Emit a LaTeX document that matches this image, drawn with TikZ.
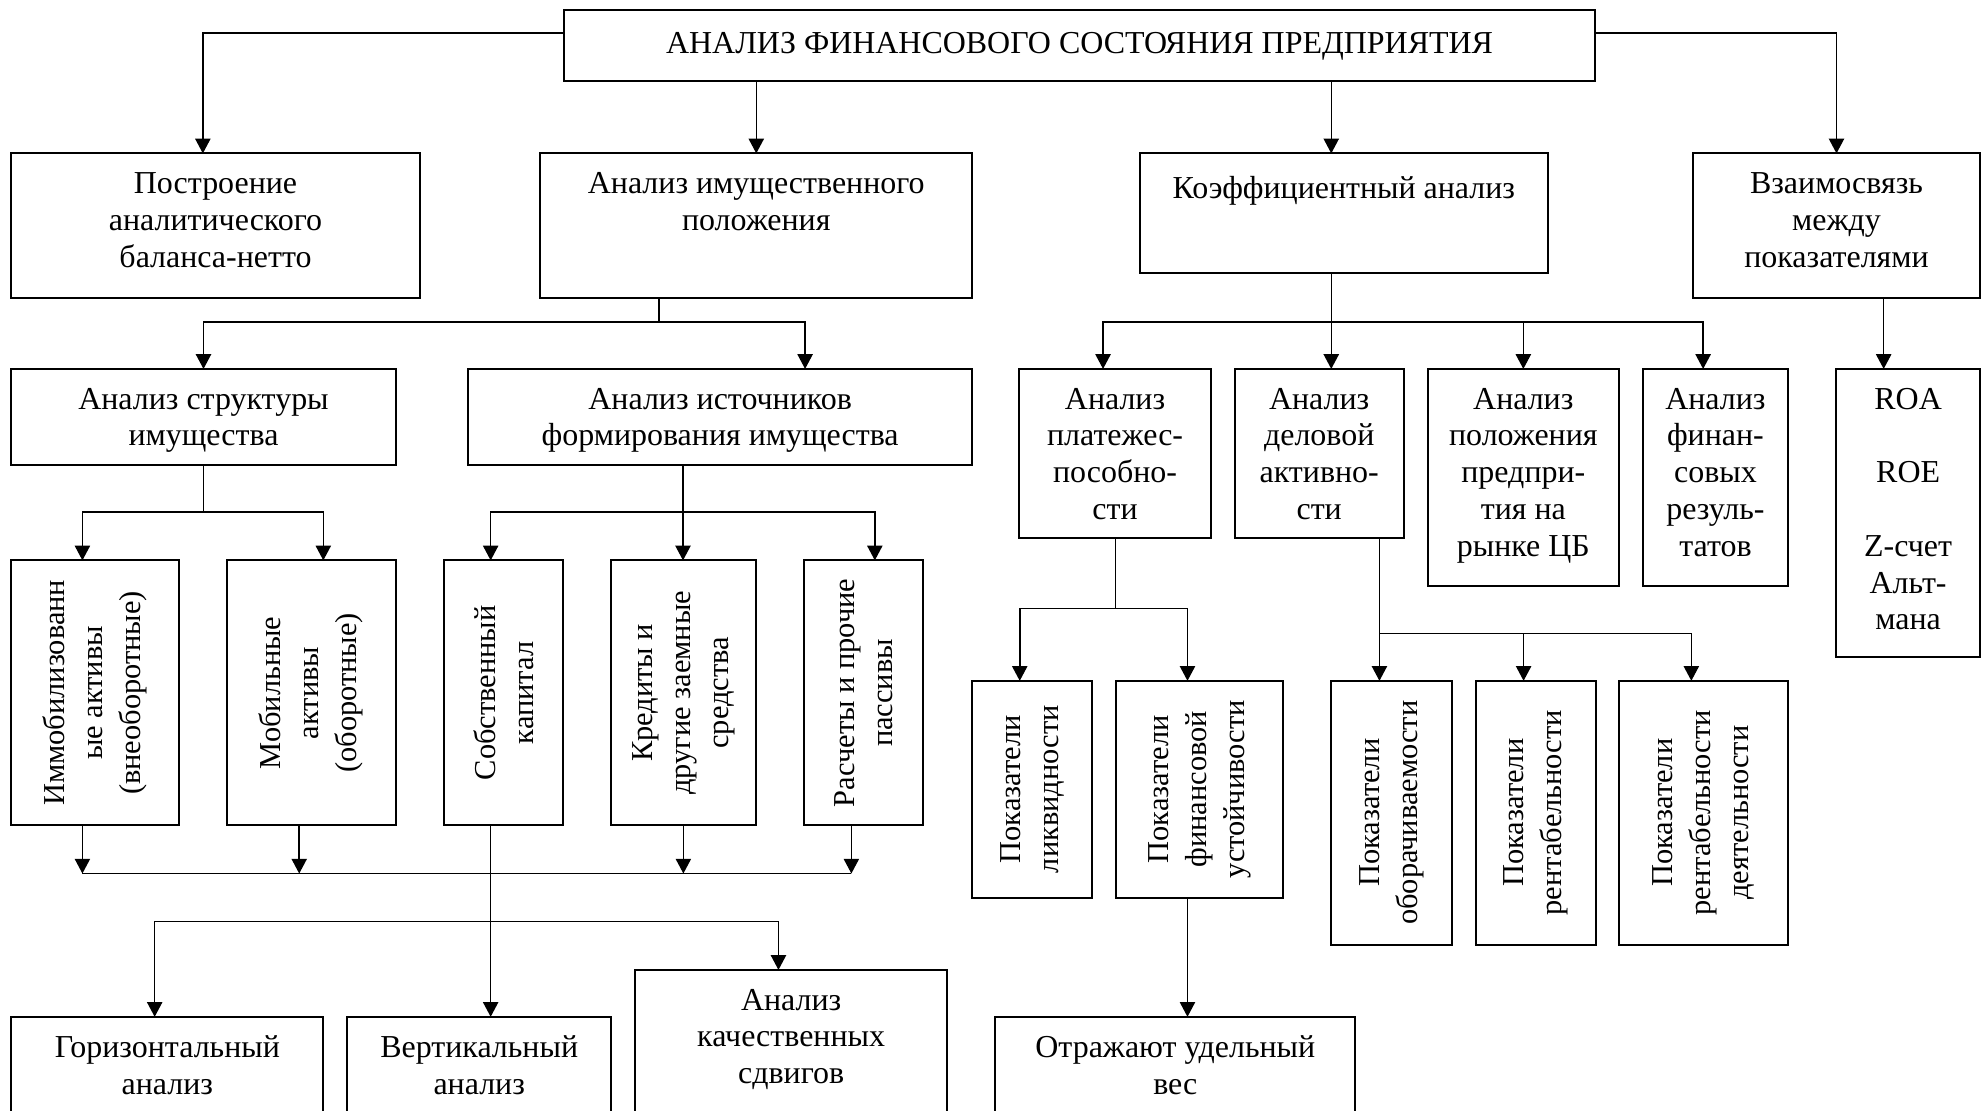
\documentclass[tikz,border=0pt]{standalone}
\usepackage{fontspec}
\setmainfont{Liberation Serif}
\usetikzlibrary{arrows.meta}
\newcommand\bx[5]{%
  \pgfmathsetlengthmacro\bxw{(#4-#2)*0.5pt}%
  \pgfmathsetlengthmacro\bxh{(#5-#3)*0.5pt}%
  \node[box, minimum width=\bxw, minimum height=\bxh] (#1) at ({(#2+#4)/2},{(#3+#5)/2}) {};}
\begin{document}
\begin{tikzpicture}[x=0.5pt,y=-0.5pt,
  box/.style={draw, line width=0.8pt, inner sep=0pt, outer sep=0pt},
  tx/.style={align=center, anchor=north, font=\fontsize{12.6}{14.5}\selectfont, inner sep=0pt, execute at begin node=\strut},
  vt/.style={align=center, rotate=90, font=\fontsize{12}{15}\selectfont, inner sep=0pt},
  ln/.style={line width=0.6pt},
  arr/.style={ln, -{Triangle[length=5.8pt,width=6pt]}}]
\useasboundingbox (0,0) rectangle (1568,876);
\clip (0,0) rectangle (1568,876);
\fill[white] (0,0) rectangle (1568,876);
% boxes
\bx{T}{445}{8}{1258}{64}
\bx{B1}{9}{121}{331}{235}
\bx{B2}{426}{121}{767}{235}
\bx{B3}{899}{121}{1221}{215}
\bx{B4}{1335}{121}{1562}{235}
\bx{C1}{9}{291}{312}{367}
\bx{C2}{369}{291}{767}{367}
\bx{D1}{9}{442}{141}{651}
\bx{D2}{179}{442}{312}{651}
\bx{D3}{350}{442}{444}{651}
\bx{D4}{482}{442}{596}{651}
\bx{D5}{634}{442}{728}{651}
\bx{E1}{9}{802}{255}{900}
\bx{E2}{274}{802}{482}{900}
\bx{E3}{501}{765}{747}{900}
\bx{F1}{804}{291}{955}{424}
\bx{F2}{974}{291}{1107}{424}
\bx{F3}{1126}{291}{1277}{462}
\bx{F4}{1296}{291}{1410}{462}
\bx{F5}{1448}{291}{1562}{518}
\bx{G1}{767}{537}{861}{708}
\bx{G2}{880}{537}{1012}{708}
\bx{G3}{1050}{537}{1145}{745}
\bx{G4}{1164}{537}{1259}{745}
\bx{G5}{1277}{537}{1410}{745}
\bx{H}{785}{802}{1069}{900}
% texts
\node[tx] (Tt) at ([yshift=-6.6pt]T.north) {АНАЛИЗ ФИНАНСОВОГО СОСТОЯНИЯ ПРЕДПРИЯТИЯ};
\node[tx] (B1t) at ([yshift=-7.35pt]B1.north) {Построение\\аналитического\\баланса-нетто};
\node[tx] (B2t) at ([yshift=-7.35pt]B2.north) {Анализ имущественного\\положения};
\node[tx] (B3t) at ([yshift=-7.35pt]B3.north) {Коэффициентный анализ};
\node[tx] (B4t) at ([yshift=-7.35pt]B4.north) {Взаимосвязь\\между\\показателями};
\node[tx] (C1t) at ([yshift=-7.35pt]C1.north) {Анализ структуры\\имущества};
\node[tx] (C2t) at ([yshift=-7.35pt]C2.north) {Анализ источников\\формирования имущества};
\node[tx] (E1t) at ([yshift=-7.35pt]E1.north) {Горизонтальный\\анализ};
\node[tx] (E2t) at ([yshift=-7.35pt]E2.north) {Вертикальный\\анализ};
\node[tx] (E3t) at ([yshift=-7.35pt]E3.north) {Анализ\\качественных\\сдвигов};
\node[tx] (F1t) at ([yshift=-7.35pt]F1.north) {Анализ\\платежес-\\пособно-\\сти};
\node[tx] (F2t) at ([yshift=-7.35pt]F2.north) {Анализ\\деловой\\активно-\\сти};
\node[tx] (F3t) at ([yshift=-7.35pt]F3.north) {Анализ\\положения\\предпри-\\тия на\\рынке ЦБ};
\node[tx] (F4t) at ([yshift=-7.35pt]F4.north) {Анализ\\финан-\\совых\\резуль-\\татов};
\node[tx] (F5t) at ([yshift=-7.35pt]F5.north) {ROA\\[14.5pt]ROE\\[14.5pt]Z-счет\\Альт-\\мана};
\node[tx] (Ht) at ([yshift=-7.35pt]H.north) {Отражают удельный\\вес};
\node[vt] (D1t) at (D1.center) {Иммобилизованн\\ые активы\\(внеоборотные)};
\node[vt] (D2t) at (D2.center) {Мобильные\\активы\\(оборотные)};
\node[vt] (D3t) at (D3.center) {Собственный\\капитал};
\node[vt] (D4t) at (D4.center) {Кредиты и\\другие заемные\\средства};
\node[vt] (D5t) at (D5.center) {Расчеты и прочие\\пассивы};
\node[vt] (G1t) at (G1.center) {Показатели\\ликвидности};
\node[vt] (G2t) at (G2.center) {Показатели\\финансовой\\устойчивости};
\node[vt] (G3t) at (G3.center) {Показатели\\оборачиваемости};
\node[vt] (G4t) at (G4.center) {Показатели\\рентабельности};
\node[vt] (G5t) at (G5.center) {Показатели\\рентабельности\\деятельности};
% junctions
\coordinate (j1) at (519.6,254);
\coordinate (j2) at (160.5,404);
\coordinate (j3) at (538.7,404);
\coordinate (j4) at (65,689);
\coordinate (j5) at (671.5,689);
\coordinate (j6) at (387,727);
\coordinate (j7) at (1050,254);
\coordinate (j8) at (879.8,480);
\coordinate (j9) at (1088,499.5);
% top level connectors
\draw[arr] ([yshift=5pt]T.west) -| ([xshift=-5pt]B1.north);
\draw[arr] (B2.north |- T.south) -- (B2.north);
\draw[arr] ([xshift=-5pt]B3.north |- T.south) -- ([xshift=-5pt]B3.north);
\draw[arr] ([yshift=5pt]T.east) -| (B4.north);
% property analysis
\draw[ln] (j1 |- B2.south) -- (j1);
\draw[arr] (j1) -| (C1.north);
\draw[arr] (j1) -| ([xshift=33.5pt]C2.north);
\draw[ln] (C1.south) -- (j2);
\draw[arr] (j2) -| ([xshift=-5pt]D1.north);
\draw[arr] (j2) -| ([xshift=4.75pt]D2.north);
\draw[ln] (j3 |- C2.south) -- (j3);
\draw[arr] (j3) -| ([xshift=-5pt]D3.north);
\draw[arr] (j3) -- (j3 |- D4.north);
\draw[arr] (j3) -| ([xshift=4.5pt]D5.north);
\draw[ln] (j4) -- (j5);
\draw[arr] ([xshift=-5pt]D1.south) -- ([xshift=-5pt]D1.south |- j4);
\draw[arr] ([xshift=-4.75pt]D2.south) -- ([xshift=-4.75pt]D2.south |- j4);
\draw[arr] (D4.south) -- (D4.south |- j4);
\draw[arr] ([xshift=-4.75pt]D5.south) -- ([xshift=-4.75pt]D5.south |- j4);
\draw[arr] ([xshift=-5pt]D3.south) -- ([xshift=-5pt]D3.south |- E2.north);
\draw[arr] (j6) -| ([xshift=-5pt]E1.north);
\draw[arr] (j6) -| ([xshift=-5pt]E3.north);
% coefficient analysis
\draw[ln] (j7 |- B3.south) -- (j7);
\draw[arr] (j7) -| ([xshift=-4.75pt]F1.north);
\draw[arr] (j7) -- (j7 |- F2.north);
\draw[arr] (j7) -| (F3.north);
\draw[arr] (j7) -| ([xshift=-4.85pt]F4.north);
\draw[arr] ([xshift=-9.65pt]F5.north |- B4.south) -- ([xshift=-9.65pt]F5.north);
\draw[ln] (j8 |- F1.south) -- (j8);
\draw[arr] (j8) -| ([xshift=-4.85pt]G1.north);
\draw[arr] (j8) -| ([xshift=-4.7pt]G2.north);
\draw[ln] (j9 |- F2.south) -- (j9);
\draw[arr] (j9) -- (j9 |- G3.north);
\draw[arr] (j9) -| ([xshift=-4.9pt]G4.north);
\draw[arr] (j9) -| ([xshift=-4.75pt]G5.north);
\draw[arr] ([xshift=-4.7pt]G2.south) -- ([xshift=-4.7pt]G2.south |- H.north);
\end{tikzpicture}
\end{document}
